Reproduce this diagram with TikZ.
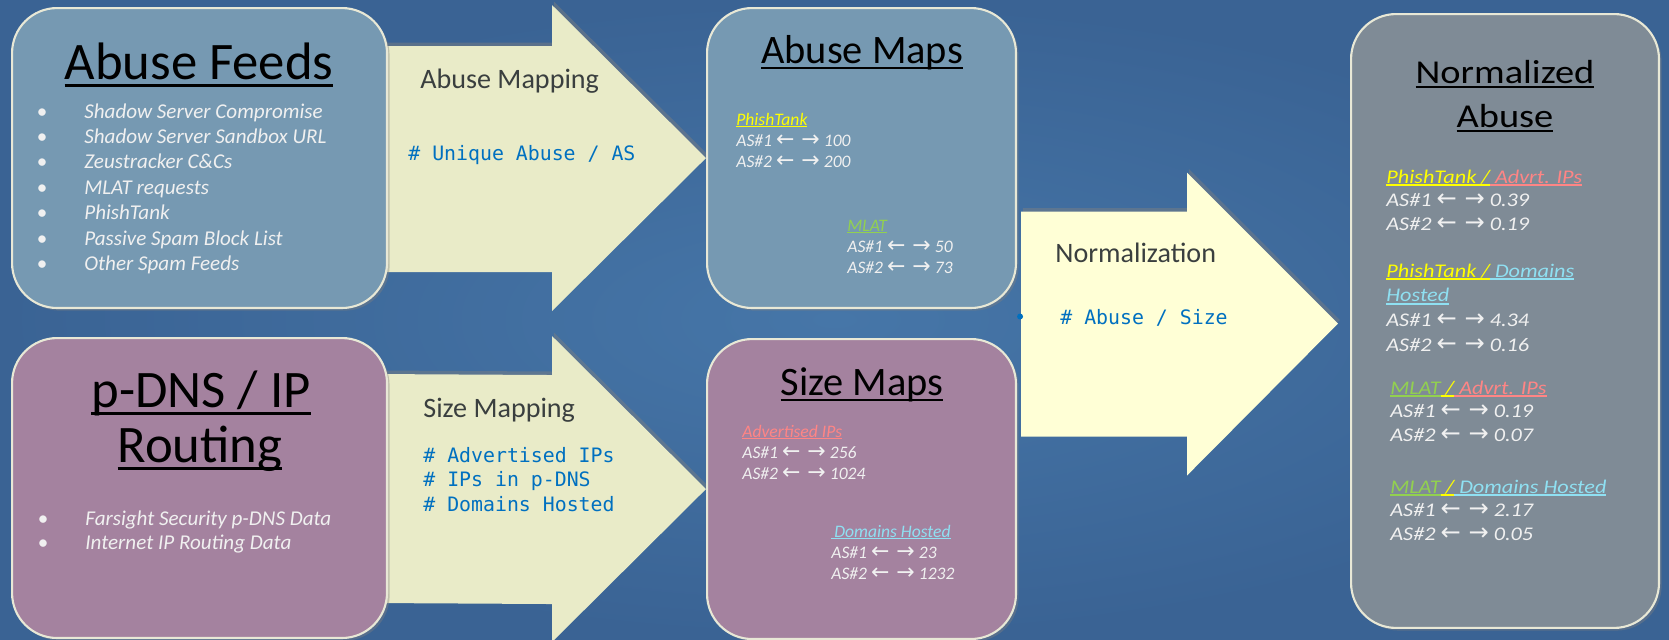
\documentclass[tikz,border=0pt]{standalone}
\usepackage{fontspec}
\setmainfont{Carlito}
\setmonofont{DejaVu Sans Mono}
\newfontfamily\widefont[FakeStretch=1.15]{Carlito}
\newfontfamily\arrowfont[Scale=1.25]{DejaVu Sans}
\usepackage{xcolor}
\usepackage{tikz}
\usetikzlibrary{shapes,arrows,positioning,calc,shadows}

\definecolor{bglight}{HTML}{4676A8}
\definecolor{bgdark}{HTML}{3A6394}
\definecolor{feedblue}{HTML}{7699B2}
\definecolor{dnsmauve}{HTML}{A4829F}
\definecolor{normgrey}{HTML}{7F8B96}
\definecolor{rimcream}{HTML}{E8E8D6}
\definecolor{mapyellow}{HTML}{E9EBC8}
\definecolor{normyellow}{HTML}{FFFFD6}
\definecolor{labelgrey}{HTML}{3A3F3F}
\definecolor{codeblue}{HTML}{0070C0}
\definecolor{itemwhite}{HTML}{F0F0F0}
\definecolor{phishyellow}{HTML}{FFFF00}
\definecolor{mlatgreen}{HTML}{92D050}
\definecolor{advsalmon}{HTML}{FF8585}
\definecolor{domcyan}{HTML}{8FE0F2}

\newcommand{\undlwith}[3]{\setbox0=\hbox{#3}\leavevmode\rlap{\rule[-#1]{\wd0}{#2}}\box0}
\newcommand{\undl}{\undlwith{0.14em}{0.11em}}
\newcommand{\titleundl}{\undlwith{0.157em}{0.065em}}
\newcommand{\lrar}{{\arrowfont ←\ →}}
\newcommand{\feedbullet}{\llap{\upshape\textbullet\hspace{21pt}}}

\pgfdeclarelayer{canvas}
\pgfdeclarelayer{flow}
\pgfsetlayers{canvas,flow,main}

\begin{document}
\begin{tikzpicture}[x=0.02cm, y=-0.02cm]

\tikzstyle{feedbox} = [rectangle, rounded corners=0.9cm, draw=rimcream, line width=1.2pt, minimum width=7.5cm, minimum height=6cm, anchor=north west, drop shadow={opacity=0.4, shadow xshift=1.5pt, shadow yshift=-1.5pt}]
\tikzstyle{mapbox} = [feedbox, minimum width=6.18cm]
\tikzstyle{normbox} = [feedbox, minimum width=6.16cm, minimum height=12.28cm, fill=normgrey]
\tikzstyle{bigtitle} = [font=\fontsize{30}{31}\selectfont, anchor=base, inner sep=0]
\tikzstyle{maptitle} = [font=\fontsize{23}{25}\selectfont, anchor=base, inner sep=0]
\tikzstyle{normtitle} = [font=\widefont\fontsize{19}{25}\selectfont, anchor=base, inner sep=0]
\tikzstyle{feeditems} = [font=\itshape\fontsize{12}{14.5}\selectfont, text=itemwhite, anchor=base west, inner sep=0]
\tikzstyle{mapitems} = [font=\itshape\fontsize{10}{12.1}\selectfont, text=itemwhite, anchor=base west, inner sep=0]
\tikzstyle{normitems} = [font=\widefont\itshape\fontsize{11}{13.4}\selectfont, text=itemwhite, anchor=base west, inner sep=0]
\tikzstyle{steplabel} = [font=\fontsize{16}{19}\selectfont, text=labelgrey, anchor=base west, inner sep=0]
\tikzstyle{metric} = [font=\ttfamily\fontsize{11.3}{14.2}\selectfont, text=codeblue, anchor=base west, inner sep=0]
\tikzstyle{maparrow} = [fill=mapyellow, drop shadow={opacity=0.45, shadow xshift=1pt, shadow yshift=2pt}]
\tikzstyle{normarrow} = [maparrow, fill=normyellow]

\useasboundingbox (0,0) rectangle (1669,639);
\begin{pgfonlayer}{canvas}
\shade[inner color=bglight, outer color=bgdark] (0,0) rectangle (1669,639);
\end{pgfonlayer}

% boxes
\node (feeds) [feedbox, fill=feedblue] at (11,7) {};
\node (dns) [feedbox, fill=dnsmauve] at (11,337) {};
\node (abusemaps) [mapbox, fill=feedblue] at (706,7) {};
\node (sizemaps) [mapbox, fill=dnsmauve] at (706,338) {};
\node (normabuse) [normbox] at (1350,13) {};

\coordinate (normstart) at ($(abusemaps.south east)!0.5!(sizemaps.north east)$);
\coordinate (normtip) at ($(normstart -| normabuse.west)+(-12,0)$);

% block arrows
\begin{pgfonlayer}{flow}
\fill[maparrow] ($(feeds.east)+(-12,-112)$) -- ($(abusemaps.west)+(-154,-112)$) -- ($(abusemaps.west)+(-154,-153)$) -- (abusemaps.west) -- ($(abusemaps.west)+(-154,153)$) -- ($(abusemaps.west)+(-154,114)$) -- ($(feeds.east)+(-12,114)$) -- cycle;
\fill[maparrow] ($(dns.east)+(-12,-114)$) -- ($(sizemaps.west)+(-154,-114)$) -- ($(sizemaps.west)+(-154,-153)$) -- (sizemaps.west) -- ($(sizemaps.west)+(-154,153)$) -- ($(sizemaps.west)+(-154,115)$) -- ($(dns.east)+(-12,115)$) -- cycle;
\fill[normarrow] ($(normstart)+(4,-112)$) -- ($(normtip)+(-151,-112)$) -- ($(normtip)+(-151,-151)$) -- (normtip) -- ($(normtip)+(-151,152)$) -- ($(normtip)+(-151,113)$) -- ($(normstart)+(4,113)$) -- cycle;
\end{pgfonlayer}
\fill[codeblue] ($(normstart)+(3,-7)$) circle (1.7pt);

% feeds
\node (feedstitle) [bigtitle] at (199,79) {\titleundl{Abuse Feeds}};
\node (feedlist) [feeditems] at (84,118) {\vtop{
  \hbox{\feedbullet Shadow Server Compromise}
  \hbox{\feedbullet Shadow Server Sandbox URL}
  \hbox{\feedbullet Zeustracker C\&Cs}
  \hbox{\feedbullet MLAT requests}
  \hbox{\feedbullet PhishTank}
  \hbox{\feedbullet Passive Spam Block List}
  \hbox{\feedbullet Other Spam Feeds}}};

\node (dnstitle) [bigtitle] at (201,407) {\titleundl{p-DNS / IP}};
\node (routingtitle) [bigtitle] at (200,462) {\titleundl{Routing}};
\node (dnslist) [feeditems, font=\itshape\fontsize{12}{13.7}\selectfont] at (85,525) {\vtop{
  \hbox{\feedbullet Farsight Security p-DNS Data}
  \hbox{\feedbullet Internet IP Routing Data}}};

% mapping labels
\node (abusemapping) [steplabel] at (420,88) {Abuse Mapping};
\node (abusemetric) [metric] at (408,160) {\# Unique Abuse / AS};
\node (sizemapping) [steplabel] at (423,417) {Size Mapping};
\node (sizemetric) [metric] at (423,462) {\vtop{
  \hbox{\# Advertised IPs}
  \hbox{\# IPs in p-DNS}
  \hbox{\# Domains Hosted}}};
\node (normalization) [steplabel] at (1055,262) {Normalization};
\node (normmetric) [metric] at (1060,324) {\# Abuse / Size};

% abuse maps
\node (abusemapstitle) [maptitle] at (862,63) {\titleundl{Abuse Maps}};
\node (phishmap) [mapitems] at (736,125) {\vtop{
  \hbox{\textcolor{phishyellow}{\undl{PhishTank}}}
  \hbox{AS\#1 \lrar{} 100}
  \hbox{AS\#2 \lrar{} 200}}};
\node (mlatmap) [mapitems] at (847,231) {\vtop{
  \hbox{\textcolor{mlatgreen}{\undl{MLAT}}}
  \hbox{AS\#1 \lrar{} 50}
  \hbox{AS\#2 \lrar{} 73}}};

% size maps
\node (sizemapstitle) [maptitle] at (862,395) {\titleundl{Size Maps}};
\node (advmap) [mapitems] at (742,437) {\vtop{
  \hbox{\textcolor{advsalmon}{\undl{Advertised IPs}}}
  \hbox{AS\#1 \lrar{} 256}
  \hbox{AS\#2 \lrar{} 1024}}};
\node (dommap) [mapitems] at (831,537) {\vtop{
  \hbox{\textcolor{domcyan}{\undl{\,Domains Hosted}}}
  \hbox{AS\#1 \lrar{} 23}
  \hbox{AS\#2 \lrar{} 1232}}};

% normalized abuse
\node (normtitle1) [normtitle] at (1505,83) {\titleundl{Normalized}};
\node (normtitle2) [normtitle] at (1505,127) {\titleundl{Abuse}};
\node (phishadv) [normitems] at (1386,183) {\vtop{
  \hbox{\textcolor{phishyellow}{\undl{PhishTank /}}\textcolor{advsalmon}{\undl{\ Advrt. IPs}}}
  \hbox{AS\#1 \lrar{} 0.39}
  \hbox{AS\#2 \lrar{} 0.19}}};
\node (phishdom) [normitems, font=\widefont\itshape\fontsize{11}{14.2}\selectfont] at (1386,277) {\vtop{
  \hbox{\textcolor{phishyellow}{\undl{PhishTank /}}\textcolor{domcyan}{\undl{\ Domains}}}
  \hbox{\textcolor{domcyan}{\undl{Hosted}}}
  \hbox{AS\#1 \lrar{} 4.34}
  \hbox{AS\#2 \lrar{} 0.16}}};
\node (mlatadv) [normitems] at (1390,394) {\vtop{
  \hbox{\textcolor{mlatgreen}{\undl{MLAT}}\textcolor{phishyellow}{\undl{\ /}}\textcolor{advsalmon}{\undl{\ Advrt. IPs}}}
  \hbox{AS\#1 \lrar{} 0.19}
  \hbox{AS\#2 \lrar{} 0.07}}};
\node (mlatdom) [normitems] at (1390,493) {\vtop{
  \hbox{\textcolor{mlatgreen}{\undl{MLAT}}\textcolor{phishyellow}{\undl{\ /}}\textcolor{domcyan}{\undl{\ Domains Hosted}}}
  \hbox{AS\#1 \lrar{} 2.17}
  \hbox{AS\#2 \lrar{} 0.05}}};

\end{tikzpicture}
\end{document}
